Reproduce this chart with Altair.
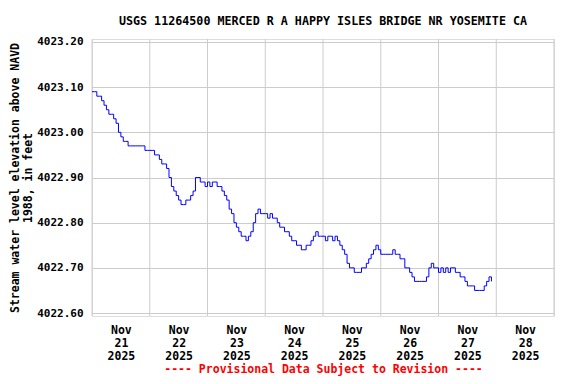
import altair as alt
import pandas as pd

# Hourly readings starting 2025-11-21 00:00 (gage height, ft)
start = "2025-11-21T00:00:00Z"
values = [
    4023.09, 4023.09, 4023.08, 4023.08, 4023.07, 4023.06, 4023.05, 4023.04,
    4023.04, 4023.03, 4023.02, 4023.00, 4022.99, 4022.98, 4022.98, 4022.97,
    4022.97, 4022.97, 4022.97, 4022.97, 4022.97, 4022.97, 4022.96, 4022.96,
    4022.96, 4022.96, 4022.95, 4022.95, 4022.94, 4022.93, 4022.93, 4022.92,
    4022.90, 4022.88, 4022.87, 4022.86, 4022.85, 4022.84, 4022.84, 4022.85,
    4022.85, 4022.86, 4022.87, 4022.90, 4022.90, 4022.89, 4022.89, 4022.88,
    4022.89, 4022.88, 4022.89, 4022.89, 4022.88, 4022.88, 4022.87, 4022.86,
    4022.85, 4022.83, 4022.82, 4022.80, 4022.79, 4022.78, 4022.77, 4022.77,
    4022.76, 4022.77, 4022.78, 4022.80, 4022.82, 4022.83, 4022.82, 4022.82,
    4022.82, 4022.81, 4022.82, 4022.81, 4022.81, 4022.80, 4022.79, 4022.79,
    4022.78, 4022.78, 4022.77, 4022.76, 4022.76, 4022.75, 4022.75, 4022.74,
    4022.74, 4022.75, 4022.75, 4022.76, 4022.77, 4022.78, 4022.77, 4022.77,
    4022.77, 4022.76, 4022.77, 4022.77, 4022.76, 4022.77, 4022.76, 4022.75,
    4022.74, 4022.73, 4022.71, 4022.70, 4022.70, 4022.69, 4022.69, 4022.69,
    4022.70, 4022.70, 4022.71, 4022.72, 4022.73, 4022.74, 4022.75, 4022.74,
    4022.73, 4022.73, 4022.73, 4022.73, 4022.73, 4022.74, 4022.73, 4022.73,
    4022.72, 4022.72, 4022.70, 4022.70, 4022.69, 4022.68, 4022.67, 4022.67,
    4022.67, 4022.67, 4022.67, 4022.68, 4022.70, 4022.71, 4022.70, 4022.70,
    4022.69, 4022.70, 4022.69, 4022.70, 4022.69, 4022.70, 4022.70, 4022.69,
    4022.69, 4022.68, 4022.68, 4022.67, 4022.66, 4022.66, 4022.66, 4022.65,
    4022.65, 4022.65, 4022.65, 4022.66, 4022.67, 4022.68, 4022.67,
]
day_starts = [
    "2025-11-21T00:00:00Z", "2025-11-22T00:00:00Z", "2025-11-23T00:00:00Z",
    "2025-11-24T00:00:00Z", "2025-11-25T00:00:00Z", "2025-11-26T00:00:00Z",
    "2025-11-27T00:00:00Z", "2025-11-28T00:00:00Z", "2025-11-29T00:00:00Z",
]
label_times = [
    "2025-11-21T12:00:00Z", "2025-11-22T12:00:00Z", "2025-11-23T12:00:00Z",
    "2025-11-24T12:00:00Z", "2025-11-25T12:00:00Z", "2025-11-26T12:00:00Z",
    "2025-11-27T12:00:00Z", "2025-11-28T12:00:00Z",
]
y_ticks = [4022.6, 4022.7, 4022.8, 4022.9, 4023.0, 4023.1, 4023.2]

times = pd.date_range(start, periods=len(values), freq="h").strftime("%Y-%m-%dT%H:%M:%SZ")
df = pd.DataFrame({"time": list(times), "value": values})
grid_df = pd.DataFrame({"time": day_starts})

FONT = "DejaVu Sans Mono"

x_scale = alt.Scale(type="utc", domain=[day_starts[0], day_starts[-1]], nice=False)
y_scale = alt.Scale(domain=[4022.5934, 4023.2066], nice=False, zero=False)

vgrid = alt.Chart(grid_df).mark_rule(color="#cccccc", strokeWidth=1).encode(
    x=alt.X("time:T", scale=x_scale)
)

line = alt.Chart(df).mark_line(color="#0000ff", strokeWidth=1, interpolate="step-after").encode(
    x=alt.X(
        "time:T",
        scale=x_scale,
        axis=alt.Axis(
            values=label_times,
            labelExpr="[utcFormat(datum.value, '%b'), utcFormat(datum.value, '%d'), utcFormat(datum.value, '%Y')]",
            grid=False,
            ticks=False,
            domain=False,
            labelPadding=8,
            labelLineHeight=13,
            labelFont=FONT,
            labelFontSize=11.5,
            labelFontWeight="bold",
            labelColor="black",
            labelAngle=0,
            title="---- Provisional Data Subject to Revision ----",
            titleColor="red",
            titleFont=FONT,
            titleFontSize=11.5,
            titleFontWeight="bold",
            titlePadding=2,
        ),
    ),
    y=alt.Y(
        "value:Q",
        scale=y_scale,
        axis=alt.Axis(
            values=y_ticks,
            format=".2f",
            grid=True,
            gridColor="#cccccc",
            gridWidth=1,
            ticks=False,
            domain=False,
            labelPadding=9,
            labelFont=FONT,
            labelFontSize=11,
            labelFontWeight="bold",
            labelColor="black",
            title=["Stream water level elevation above NAVD", "1988, in feet"],
            titleFont=FONT,
            titleFontSize=11.5,
            titleFontWeight="bold",
            titleColor="black",
            titleLineHeight=13,
            titlePadding=3,
        ),
    ),
)

chart = (
    alt.layer(vgrid, line)
    .properties(
        width=462,
        height=277,
        autosize=alt.AutoSizeParams(type="none"),
        padding={"left": 84, "top": 31, "right": 14, "bottom": 60},
        title=alt.TitleParams(
            "USGS 11264500 MERCED R A HAPPY ISLES BRIDGE NR YOSEMITE CA",
            font=FONT,
            fontSize=11.7,
            fontWeight="bold",
            color="black",
            anchor="middle",
            offset=8,
        ),
    )
    .configure_view(stroke="black", strokeWidth=1)
    .configure(background="white")
)

chart.save("out.html", embed_options={"renderer": "svg", "actions": False})
